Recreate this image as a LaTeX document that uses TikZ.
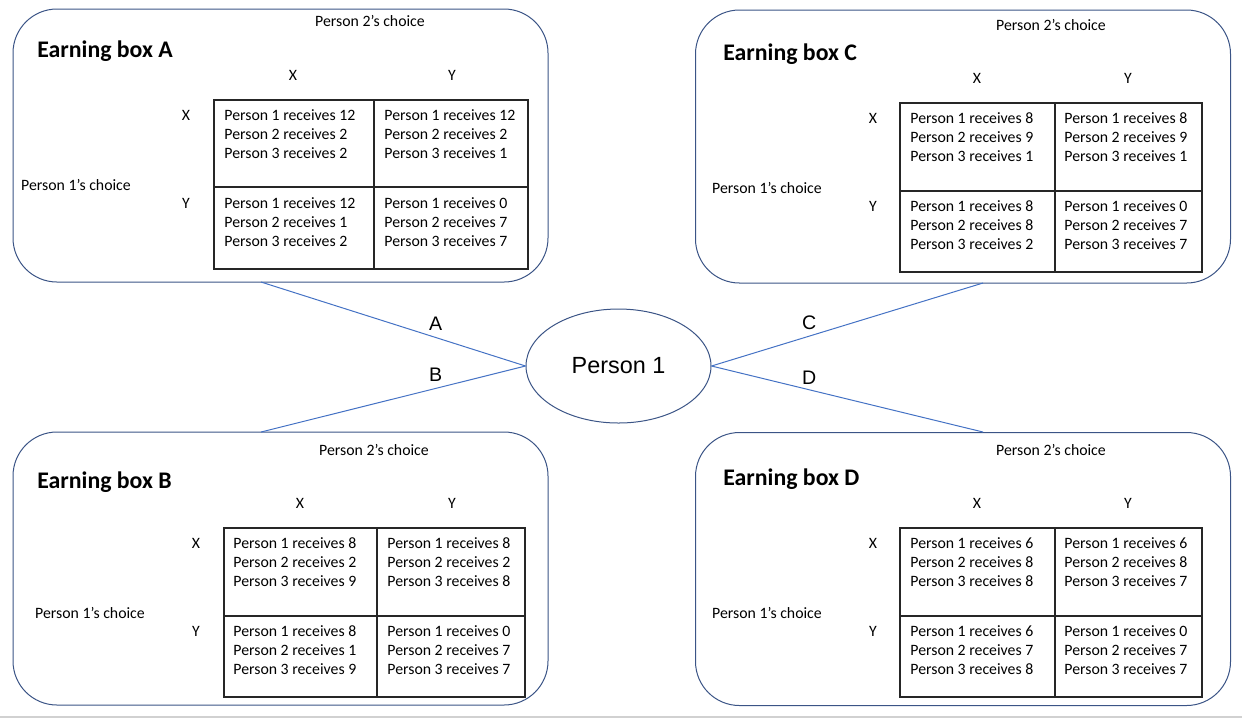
\documentclass[tikz,border=0pt]{standalone}
\usepackage{fontspec}
\setmainfont{Carlito}
\newfontfamily\arialfont{Liberation Sans}
\usepackage{tikz}
\usetikzlibrary{shapes.geometric}

\definecolor{boxblue}{HTML}{3B5486}
\definecolor{linkblue}{HTML}{4472C4}
\definecolor{tabgray}{HTML}{262626}
\newcommand{\cellfont}{\fontsize{7.9}{9.5}\selectfont}
\newcommand{\payoff}[3]{Person 1 receives #1\\Person 2 receives #2\\Person 3 receives #3}

\tikzset{
  earnbox/.style={draw=boxblue, line width=0.5pt, rounded corners=22pt,
    minimum width=267.5pt, minimum height=136.5pt, inner sep=0pt},
  boxtitle/.style={anchor=west, inner sep=0pt, font=\fontsize{11.9}{14}\selectfont\bfseries},
  lbl/.style={inner sep=0pt, font=\cellfont},
  cell/.style={anchor=north west, inner sep=0pt, align=left, font=\cellfont},
  tabline/.style={draw=tabgray, line width=0.8pt},
  conn/.style={draw=linkblue, line width=0.5pt},
  letter/.style={font=\arialfont\fontsize{9.8}{11}\selectfont, inner sep=1pt}
}

\begin{document}
\begin{tikzpicture}[x=0.5pt, y=-0.5pt]
\useasboundingbox (0,0) rectangle (1242,720);
\draw[black!18, line width=1pt] (0,717) -- (1242,717);

% earning box A
\node[earnbox] (boxA) at (280.5,145.5) {};
\node[boxtitle] (titleA) at (37,51) {Earning box A};
\node[lbl] (p2A) at (370,21) {Person 2’s choice};
\node[lbl] (p1A) at (76,185) {Person 1’s choice};
\node[lbl] (cxA) at (293,75) {X};
\node[lbl] (cyA) at (452,75) {Y};
\node[lbl] (rxA) at (186,115) {X};
\node[lbl] (ryA) at (186,203) {Y};
\draw[tabline] (214,100) rectangle (528,269) (374,100) -- (374,269) (214,187) -- (528,187);
\node[cell] (axx) at (224,109) {\payoff{12}{2}{2}};
\node[cell] (axy) at (384,109) {\payoff{12}{2}{1}};
\node[cell] (ayx) at (224,197) {\payoff{12}{1}{2}};
\node[cell] (ayy) at (384,197) {\payoff{0}{7}{7}};

% earning box B
\node[earnbox] (boxB) at (280.5,568.5) {};
\node[boxtitle] (titleB) at (37,482) {Earning box B};
\node[lbl] (p2B) at (374,450) {Person 2’s choice};
\node[lbl] (p1B) at (90,613) {Person 1’s choice};
\node[lbl] (cxB) at (300,503) {X};
\node[lbl] (cyB) at (452,503) {Y};
\node[lbl] (rxB) at (196,543) {X};
\node[lbl] (ryB) at (196,631) {Y};
\draw[tabline] (224,528) rectangle (525,697) (377,528) -- (377,697) (224,616) -- (525,616);
\node[cell] (bxx) at (233,537) {\payoff{8}{2}{9}};
\node[cell] (bxy) at (387,537) {\payoff{8}{2}{8}};
\node[cell] (byx) at (233,625) {\payoff{8}{1}{9}};
\node[cell] (byy) at (387,625) {\payoff{0}{7}{7}};

% earning box C
\node[earnbox] (boxC) at (963,146.5) {};
\node[boxtitle] (titleC) at (723,54) {Earning box C};
\node[lbl] (p2C) at (1051,25) {Person 2’s choice};
\node[lbl] (p1C) at (767,188) {Person 1’s choice};
\node[lbl] (cxC) at (977,78) {X};
\node[lbl] (cyC) at (1128,78) {Y};
\node[lbl] (rxC) at (873,118) {X};
\node[lbl] (ryC) at (873,206) {Y};
\draw[tabline] (900,103) rectangle (1202,272) (1055,103) -- (1055,272) (900,191) -- (1202,191);
\node[cell] (cxx) at (910,112) {\payoff{8}{9}{1}};
\node[cell] (cxy) at (1064,112) {\payoff{8}{9}{1}};
\node[cell] (cyx) at (910,200) {\payoff{8}{8}{2}};
\node[cell] (cyy) at (1064,200) {\payoff{0}{7}{7}};

% earning box D
\node[earnbox] (boxD) at (963,569) {};
\node[boxtitle] (titleD) at (723,479) {Earning box D};
\node[lbl] (p2D) at (1051,450) {Person 2’s choice};
\node[lbl] (p1D) at (767,613) {Person 1’s choice};
\node[lbl] (cxD) at (977,503) {X};
\node[lbl] (cyD) at (1128,503) {Y};
\node[lbl] (rxD) at (873,543) {X};
\node[lbl] (ryD) at (873,631) {Y};
\draw[tabline] (900,528) rectangle (1202,697) (1055,528) -- (1055,697) (900,616) -- (1202,616);
\node[cell] (dxx) at (910,537) {\payoff{6}{8}{8}};
\node[cell] (dxy) at (1064,537) {\payoff{6}{8}{7}};
\node[cell] (dyx) at (910,625) {\payoff{6}{7}{8}};
\node[cell] (dyy) at (1064,625) {\payoff{0}{7}{7}};

% person 1 and links
\node[ellipse, draw=boxblue, line width=0.5pt, minimum width=92.5pt, minimum height=57pt,
  inner sep=0pt, font=\arialfont\fontsize{11.7}{14}\selectfont] (person) at (618.5,366) {Person 1};
\coordinate (endA) at (261,282);
\coordinate (endB) at (261,432);
\coordinate (endC) at (983,283);
\coordinate (endD) at (983,432);
\draw[conn] (person.west) -- node[letter, pos=0.34, above=2pt] {A} (endA);
\draw[conn] (person.west) -- node[letter, pos=0.34, above=2pt] {B} (endB);
\draw[conn] (person.east) -- node[letter, pos=0.36, above=2pt] {C} (endC);
\draw[conn] (person.east) -- node[letter, pos=0.36, above=1.5pt] {D} (endD);
\end{tikzpicture}
\end{document}
